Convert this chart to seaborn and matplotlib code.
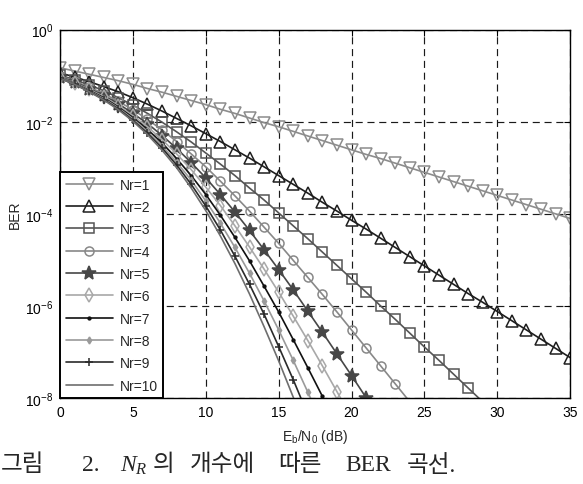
import numpy as np
import pandas as pd
import seaborn as sns
import matplotlib.pyplot as plt
from matplotlib import ticker

# Eb/N0 grid (dB), one marker per dB
snr_db = list(range(36))

# BER curves, stored as log10(BER)
log_ber_nr1 = [-0.83, -0.90, -0.97, -1.04, -1.11, -1.19, -1.28, -1.36, -1.45, -1.54,
               -1.63, -1.73, -1.82, -1.92, -2.02, -2.11, -2.21, -2.31, -2.41, -2.51,
               -2.61, -2.71, -2.80, -2.90, -3.00, -3.10, -3.20, -3.30, -3.40, -3.50,
               -3.60, -3.70, -3.80, -3.90, -4.00, -4.10]
log_ber_nr2 = [-0.94, -1.03, -1.13, -1.24, -1.35, -1.48, -1.62, -1.77, -1.93, -2.09,
               -2.26, -2.43, -2.61, -2.79, -2.98, -3.17, -3.36, -3.55, -3.75, -3.94,
               -4.14, -4.33, -4.53, -4.73, -4.93, -5.13, -5.33, -5.53, -5.73, -5.92,
               -6.12, -6.32, -6.52, -6.72, -6.92, -7.12]
log_ber_nr3 = [-0.99, -1.09, -1.20, -1.33, -1.48, -1.64, -1.82, -2.01, -2.22, -2.44,
               -2.68, -2.92, -3.17, -3.44, -3.70, -3.98, -4.26, -4.54, -4.83, -5.12,
               -5.41, -5.70, -6.00, -6.29, -6.59, -6.89, -7.18, -7.48, -7.78, -8.08]
log_ber_nr4 = [-1.01, -1.12, -1.25, -1.39, -1.56, -1.74, -1.95, -2.18, -2.43, -2.70,
               -2.98, -3.29, -3.61, -3.94, -4.29, -4.64, -5.01, -5.38, -5.75, -6.13,
               -6.52, -6.91, -7.30, -7.69, -8.08]
log_ber_nr5 = [-1.03, -1.14, -1.28, -1.43, -1.61, -1.82, -2.04, -2.30, -2.58, -2.89,
               -3.22, -3.58, -3.96, -4.36, -4.78, -5.21, -5.65, -6.11, -6.57, -7.04,
               -7.51, -7.99, -8.48]
log_ber_nr6 = [-1.04, -1.16, -1.30, -1.46, -1.65, -1.87, -2.11, -2.39, -2.70, -3.04,
               -3.42, -3.82, -4.26, -4.72, -5.20, -5.70, -6.22, -6.75, -7.30, -7.86,
               -8.42]
log_ber_nr7 = [-1.05, -1.17, -1.32, -1.48, -1.68, -1.91, -2.17, -2.46, -2.80, -3.17,
               -3.58, -4.03, -4.51, -5.02, -5.57, -6.13, -6.73, -7.34, -7.96, -8.60]
log_ber_nr8 = [-1.05, -1.18, -1.33, -1.50, -1.70, -1.94, -2.21, -2.52, -2.88, -3.27,
               -3.72, -4.20, -4.73, -5.29, -5.89, -6.52, -7.18, -7.87, -8.57]
log_ber_nr9 = [-1.06, -1.19, -1.34, -1.52, -1.72, -1.97, -2.25, -2.57, -2.94, -3.36,
               -3.83, -4.35, -4.92, -5.53, -6.18, -6.88, -7.60, -8.36]
log_ber_nr10 = [-1.06, -1.19, -1.35, -1.53, -1.74, -1.99, -2.28, -2.62, -3.00, -3.44,
                -3.93, -4.48, -5.08, -5.74, -6.45, -7.19, -7.98, -8.78]

labels = ["Nr=%d" % i for i in range(1, 11)]
series = [log_ber_nr1, log_ber_nr2, log_ber_nr3, log_ber_nr4, log_ber_nr5,
          log_ber_nr6, log_ber_nr7, log_ber_nr8, log_ber_nr9, log_ber_nr10]

# color, marker, marker size, open marker?
styles = [
    ("#8c8c8c", "v", 8, True),
    ("#1e1e1e", "^", 8, True),
    ("#555555", "s", 6.5, True),
    ("#888888", "o", 6.5, True),
    ("#474747", "*", 10, False),
    ("#a8a8a8", "d", 7, True),
    ("#111111", ".", 4, False),
    ("#9a9a9a", "d", 3.5, False),
    ("#2a2a2a", "+", 6, False),
    ("#6e6e6e", None, 0, False),
]

# caption words and their left edges (px)
caption_words = ["그림", "2.", "$N_R$", "의", "개수에", "따른", "BER", "곡선."]
caption_x = [1, 82, 120, 153, 190, 278, 345, 407]

sns.set_theme(style="white")
plt.rcParams["font.family"] = ["Liberation Sans", "Noto Sans CJK KR"]
plt.rcParams["mathtext.fontset"] = "custom"
plt.rcParams["mathtext.rm"] = "Liberation Serif"
plt.rcParams["mathtext.it"] = "Liberation Serif:italic"

fig, ax = plt.subplots(figsize=(5.83, 4.85), dpi=100)
fig.subplots_adjust(left=0.103, right=0.978, bottom=0.177, top=0.937)

for lab, vals, (col, mk, ms, hollow) in zip(labels, series, styles):
    y = 10.0 ** np.array(vals)
    x = snr_db[:len(vals)]
    n_vis = int(np.sum(np.array(vals) >= -8.0))
    kw = dict(color=col, linewidth=1.2, label=lab)
    if mk is not None:
        kw.update(marker=mk, markersize=ms, markeredgecolor=col,
                  markeredgewidth=1.1, markevery=slice(0, n_vis),
                  markerfacecolor="none" if hollow else col)
    sns.lineplot(x=x, y=y, ax=ax, **kw)

ax.set_yscale("log")
ax.set_xlim(0, 35)
ax.set_ylim(1e-8, 1)
ax.set_xticks([0, 5, 10, 15, 20, 25, 30, 35])
ax.set_yticks([1, 1e-2, 1e-4, 1e-6, 1e-8])
ax.yaxis.set_minor_locator(ticker.NullLocator())
ax.tick_params(direction="in", length=4, width=0.8, colors="black",
               labelsize=10, top=True, right=True, pad=5)
ax.grid(True, color="#1a1a1a", linestyle=(0, (6, 4)), linewidth=0.85)
for sp in ax.spines.values():
    sp.set_color("black")
    sp.set_linewidth(1.0)

ax.set_xlabel(r"E$_\mathregular{b}$/N$_\mathregular{0}$ (dB)", fontsize=10, labelpad=6)
ax.set_ylabel("BER", fontsize=10, labelpad=2)

leg = ax.legend(loc="lower left", borderaxespad=0, fancybox=False, framealpha=1,
                edgecolor="black", fontsize=10, handlelength=3.4, numpoints=1,
                labelspacing=0.6, handletextpad=0.5, borderpad=0.4)
leg.get_frame().set_linewidth(1.4)

# caption, one word at a time so the Korean glyphs fall back to the CJK font
cap_font = ["Liberation Serif", "Noto Sans CJK KR"]
for word, xp in zip(caption_words, caption_x):
    fig.text(xp / 583, 0.040, word, fontsize=17, va="center", ha="left",
             family=cap_font)

fig.savefig("out.png", dpi=100)
